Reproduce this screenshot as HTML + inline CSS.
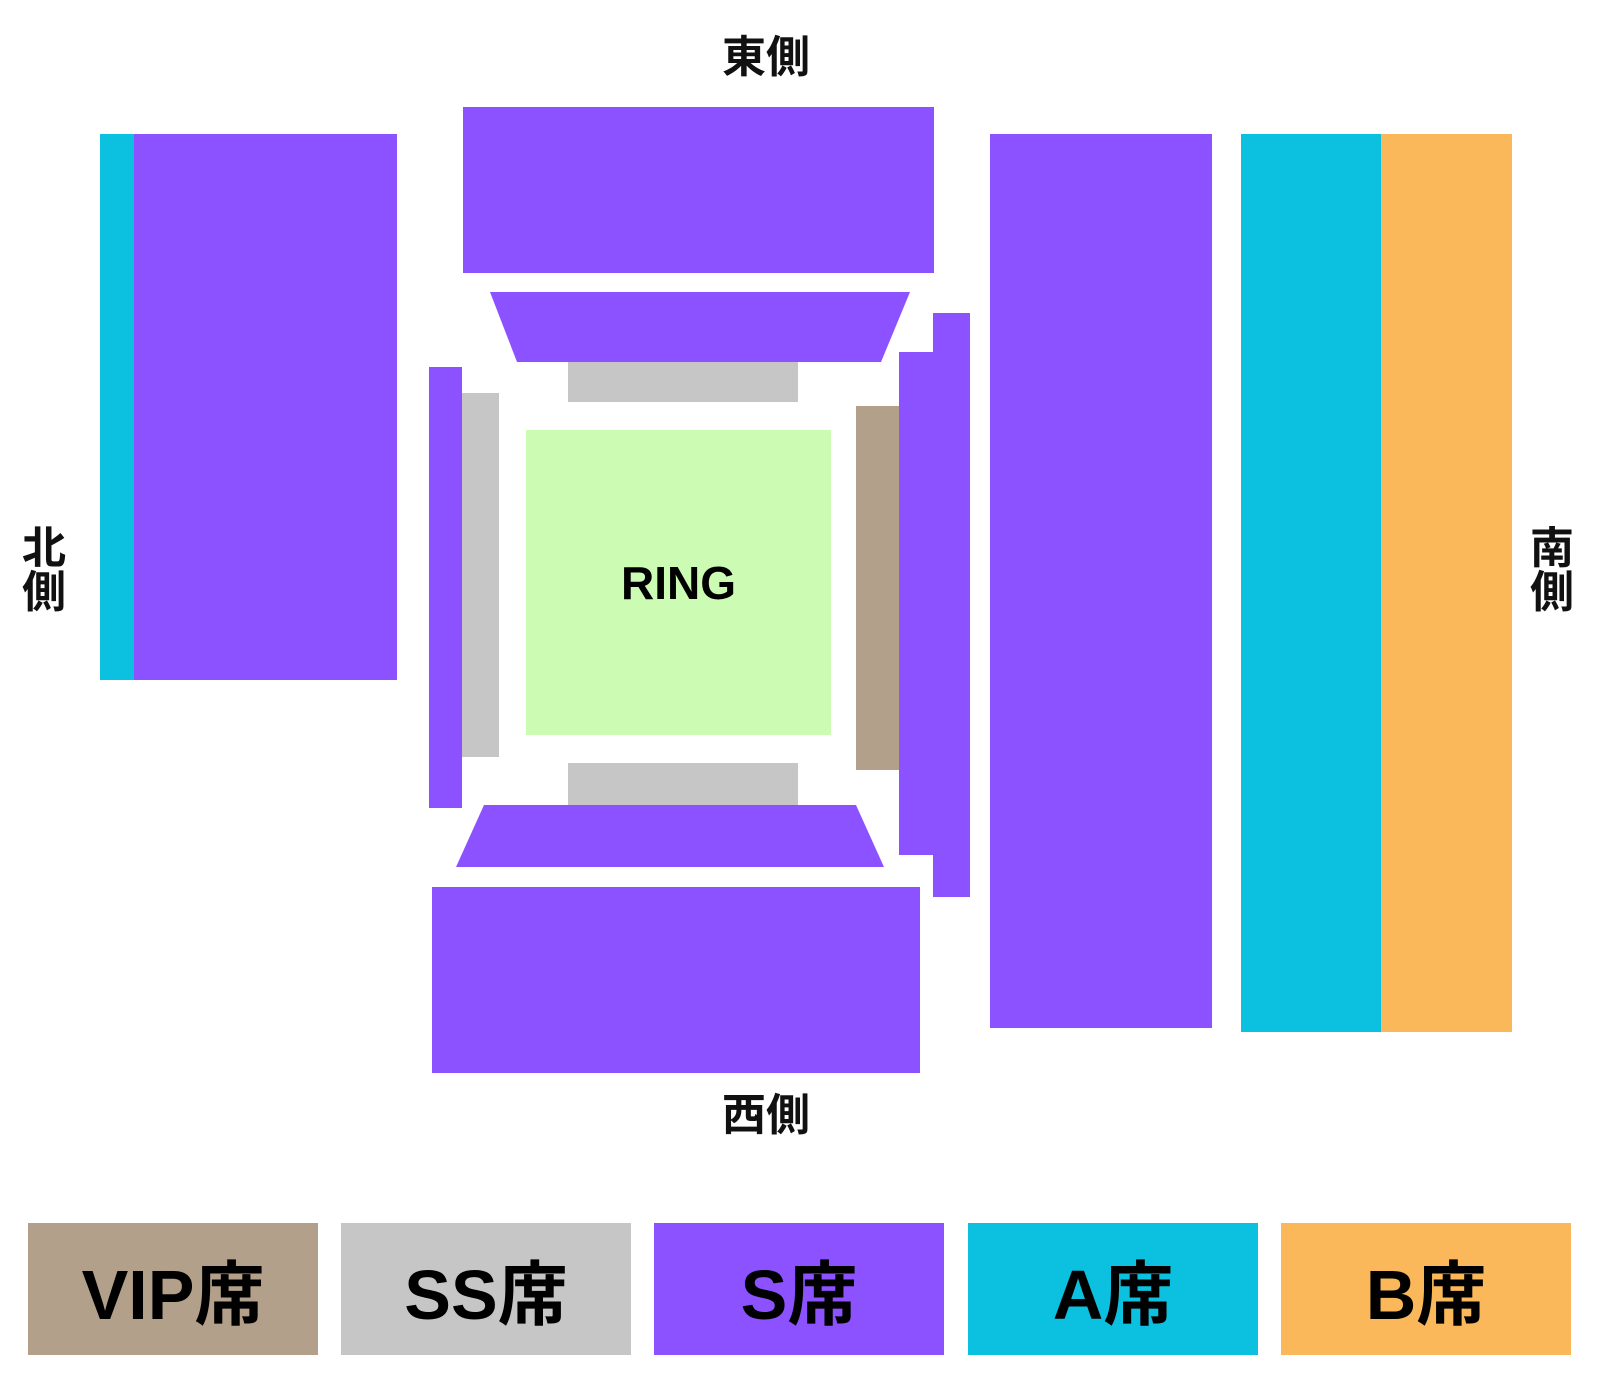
<!DOCTYPE html>
<html><head><meta charset="utf-8"><style>
html,body{margin:0;padding:0;background:#fff;}
body{width:1600px;height:1388px;position:relative;overflow:hidden;font-family:"Liberation Sans","Noto Sans CJK JP",sans-serif;}
.r{position:absolute;}
.p{background:#8c52ff}.c{background:#0cc0df}.o{background:#fbb85a}.g{background:#c6c6c6}.v{background:#b3a08a}
.lbl{position:absolute;font-size:44px;font-weight:bold;color:#111;line-height:1;}
.leg{position:absolute;top:1223px;height:132px;width:290px;display:flex;align-items:center;justify-content:center;font-size:70px;font-weight:bold;color:#000;}
</style></head><body>
<div class="lbl" style="left:722px;top:36px;">東側</div>
<div class="lbl" style="left:722px;top:1094px;">西側</div>
<div class="lbl" style="left:22px;top:527px;width:46px;">北<br>側</div>
<div class="lbl" style="left:1530px;top:527px;width:46px;">南<br>側</div>

<div class="r p" style="left:463px;top:107px;width:471px;height:166px"></div>
<div class="r c" style="left:100px;top:134px;width:34px;height:546px"></div>
<div class="r p" style="left:134px;top:134px;width:263px;height:546px"></div>
<div class="r p" style="left:990px;top:134px;width:222px;height:894px"></div>
<div class="r c" style="left:1241px;top:134px;width:140px;height:898px"></div>
<div class="r o" style="left:1381px;top:134px;width:131px;height:898px"></div>

<svg class="r" style="left:0;top:0" width="1600" height="1388">
<polygon points="490,292 910,292 881,362 517,362" fill="#8c52ff"/>
<polygon points="484,805 856,805 884,867 456,867" fill="#8c52ff"/>
</svg>
<div class="r g" style="left:568px;top:362px;width:230px;height:40px"></div>
<div class="r p" style="left:429px;top:367px;width:33px;height:441px"></div>
<div class="r g" style="left:462px;top:393px;width:37px;height:364px"></div>
<div class="r" style="left:526px;top:430px;width:305px;height:305px;background:#ccfbb3;display:flex;align-items:center;justify-content:center;font-size:46px;font-weight:bold;color:#000;">RING</div>
<div class="r v" style="left:856px;top:406px;width:43px;height:364px"></div>
<div class="r p" style="left:899px;top:352px;width:35px;height:503px"></div>
<div class="r p" style="left:933px;top:313px;width:37px;height:584px"></div>
<div class="r g" style="left:568px;top:763px;width:230px;height:42px"></div>
<div class="r p" style="left:432px;top:887px;width:488px;height:186px"></div>

<div class="leg v" style="left:28px">VIP席</div>
<div class="leg g" style="left:341px">SS席</div>
<div class="leg p" style="left:654px">S席</div>
<div class="leg c" style="left:968px">A席</div>
<div class="leg o" style="left:1281px;width:290px">B席</div>
</body></html>
